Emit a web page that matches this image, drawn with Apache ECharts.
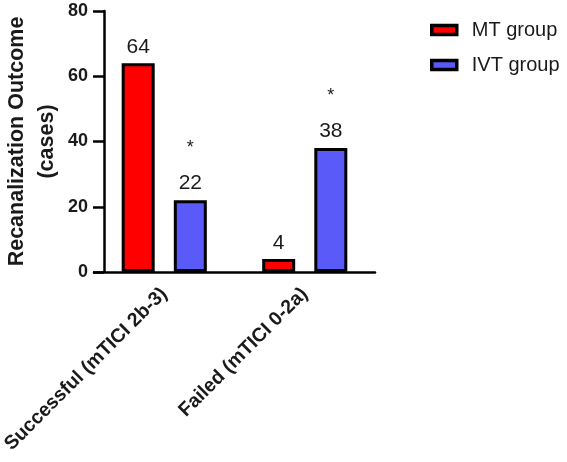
<!DOCTYPE html>
<html>
<head>
<meta charset="utf-8">
<script src="https://cdn.jsdelivr.net/npm/echarts@6/dist/echarts.min.js"></script>
<style>
  html, body { margin: 0; padding: 0; background: #fff; }
  #main { width: 567px; height: 462px; }
</style>
</head>
<body>
<div id="main"></div>
<script>
// data
var categories = ['Successful (mTICI 2b-3)', 'Failed (mTICI 0-2a)'];
var mtValues = [64, 4];
var ivtValues = [22, 38];
var ivtMarks = ['*', '*'];   // significance marks above IVT bars
var yTicks = [0, 20, 40, 60, 80];

var fontFam = 'Arial, "Liberation Sans", sans-serif';
var ink = '#1a1a1a';

var myChart = echarts.init(document.getElementById('main'));

var option = {
  animation: false,
  textStyle: { fontFamily: fontFam },
  legend: {
    orient: 'vertical',
    left: 425,
    top: 15,
    icon: 'rect',
    itemWidth: 25,
    itemHeight: 9,
    itemGap: 15,
    itemStyle: { borderColor: '#000', borderWidth: 3.5 },
    textStyle: { fontSize: 20, color: ink, fontFamily: fontFam, padding: [0, 0, 0, 10] },
    data: ['MT group', 'IVT group']
  },
  grid: {
    left: 94,
    top: 11,
    width: 281,
    bottom: 190,
    outerBoundsMode: 'none'
  },
  xAxis: {
    type: 'category',
    data: categories,
    axisLine: { lineStyle: { color: '#000', width: 2.5 } },
    axisTick: { alignWithLabel: true, length: 11, lineStyle: { color: '#000', width: 2.5 } },
    axisLabel: {
      rotate: 45,
      margin: 19,
      fontSize: 19.5,
      fontWeight: 'bold',
      color: ink,
      fontFamily: fontFam
    }
  },
  yAxis: {
    type: 'value',
    min: yTicks[0],
    max: yTicks[yTicks.length - 1],
    interval: 20,
    offset: -10,
    name: 'Recanalization Outcome\n(cases)',
    nameLocation: 'middle',
    nameGap: 42,
    nameTextStyle: { fontSize: 21.5, fontWeight: 'bold', color: ink, lineHeight: 30, fontFamily: fontFam },
    splitLine: { show: false },
    axisLine: { show: true, lineStyle: { color: '#000', width: 2.5 } },
    axisTick: { show: true, length: 11, lineStyle: { color: '#000', width: 2.5 } },
    axisLabel: { fontSize: 18, fontWeight: 'bold', color: ink, margin: 16, fontFamily: fontFam }
  },
  series: [
    {
      name: 'MT group',
      type: 'bar',
      data: mtValues,
      barWidth: 33,
      barGap: '58%',
      itemStyle: { color: '#ff0000', borderColor: '#000', borderWidth: 3 },
      label: {
        show: true,
        position: 'top',
        distance: 5,
        fontSize: 21,
        color: ink,
        fontFamily: fontFam
      }
    },
    {
      name: 'IVT group',
      type: 'bar',
      data: ivtValues,
      barWidth: 33,
      itemStyle: { color: '#5a5af8', borderColor: '#000', borderWidth: 3 },
      label: {
        show: true,
        position: 'top',
        distance: 5,
        color: ink,
        fontFamily: fontFam,
        formatter: function (p) {
          return '{s|' + ivtMarks[p.dataIndex] + '}\n{v|' + p.value + '}';
        },
        rich: {
          s: { fontSize: 18, lineHeight: 46, color: ink, fontFamily: fontFam },
          v: { fontSize: 21, lineHeight: 24, color: ink, fontFamily: fontFam }
        }
      }
    }
  ]
};

myChart.setOption(option);
</script>
</body>
</html>
